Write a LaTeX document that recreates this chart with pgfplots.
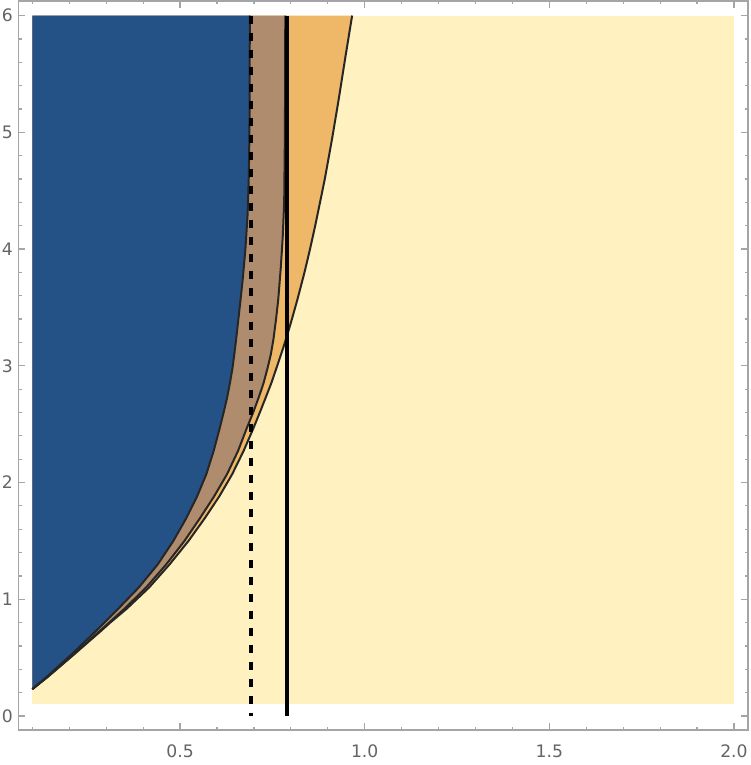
\documentclass[border=0pt]{standalone}
\usepackage{pgfplots}
\pgfplotsset{compat=1.18}
\usepackage{fontspec}
\setmainfont{DejaVu Sans}
\definecolor{cblue}{RGB}{36,82,135}
\definecolor{ctan}{RGB}{176,140,110}
\definecolor{corange}{RGB}{239,183,104}
\definecolor{cyellow}{RGB}{255,241,192}
\definecolor{cframe}{RGB}{165,165,165}
\definecolor{clabel}{RGB}{100,100,100}
\begin{document}
\begin{tikzpicture}
\useasboundingbox (-9.15pt,-17.5pt) rectangle (365.85pt,365pt);
\begin{axis}[
  at={(0,0)}, anchor=south west,
  scale only axis, width=364.85pt, height=364.5pt,
  xmin=0.062, xmax=2.038, ymin=-0.12, ymax=6.125,
  axis line style={cframe, line width=0.6pt},
  tick style={cframe, line width=0.6pt},
  tick align=inside,
  major tick length=3.3pt, minor tick length=1.7pt,
  xtick={0.5,1,1.5,2}, xticklabels={0.5,1.0,1.5,2.0},
  minor xtick={0.1,0.2,0.3,0.4,0.6,0.7,0.8,0.9,1.1,1.2,1.3,1.4,1.6,1.7,1.8,1.9},
  ytick={0,1,2,3,4,5,6},
  minor ytick={0.2,0.4,0.6,0.8,1.2,1.4,1.6,1.8,2.2,2.4,2.6,2.8,3.2,3.4,3.6,3.8,4.2,4.4,4.6,4.8,5.2,5.4,5.6,5.8},
  ticklabel style={font=\fontsize{8.6}{10}\selectfont, text=clabel},
  yticklabel style={inner sep=0pt, xshift=-2.6pt},
  xticklabel style={inner sep=0pt, yshift=-7.3pt},
  /pgf/number format/assume math mode=true,
  clip=true,
]
% background region
\addplot[fill=cyellow, draw=none] coordinates {(0.1,0.1) (2.0,0.1) (2.0,6.0) (0.1,6.0)} -- cycle;
% orange region (left of f3)
\addplot[fill=corange, draw=none] coordinates {
(0.100,0.23) (0.140,0.33) (0.177,0.43) (0.214,0.53) (0.250,0.63) (0.281,0.715) (0.311,0.80) (0.356,0.92) (0.416,1.10) (0.472,1.30) (0.523,1.50) (0.566,1.69) (0.606,1.88) (0.641,2.07) (0.672,2.27) (0.698,2.46) (0.716,2.60) (0.731,2.72) (0.747,2.85) (0.761,2.98) (0.778,3.14) (0.789,3.25) (0.803,3.40) (0.818,3.57) (0.837,3.80) (0.852,4.00) (0.866,4.20) (0.881,4.43) (0.892,4.60) (0.912,4.95) (0.930,5.29) (0.948,5.65) (0.966,6.00)
(0.1,6.0)} -- cycle;
% tan region (left of f2)
\addplot[fill=ctan, draw=none] coordinates {
(0.100,0.23) (0.139,0.33) (0.176,0.43) (0.212,0.53) (0.248,0.63) (0.278,0.715) (0.308,0.80) (0.350,0.92) (0.408,1.10) (0.463,1.30) (0.512,1.50) (0.553,1.69) (0.592,1.88) (0.627,2.07) (0.657,2.27) (0.680,2.46) (0.698,2.60) (0.712,2.72) (0.726,2.85) (0.737,2.98) (0.746,3.10) (0.753,3.23) (0.760,3.40) (0.766,3.57) (0.773,3.85) (0.778,4.10) (0.782,4.40) (0.784,5.00) (0.785,6.00)
(0.1,6.0)} -- cycle;
% blue region (left of f1)
\addplot[fill=cblue, draw=none] coordinates {
(0.100,0.23) (0.137,0.33) (0.172,0.43) (0.207,0.53) (0.240,0.63) (0.268,0.715) (0.295,0.80) (0.333,0.92) (0.388,1.10) (0.440,1.30) (0.482,1.50) (0.516,1.69) (0.546,1.88) (0.571,2.07) (0.591,2.27) (0.607,2.46) (0.618,2.60) (0.627,2.72) (0.635,2.85) (0.642,2.98) (0.647,3.10) (0.652,3.23) (0.658,3.40) (0.664,3.57) (0.670,3.75) (0.677,4.00) (0.683,4.30) (0.686,4.60) (0.688,5.00) (0.689,6.00)
(0.1,6.0)} -- cycle;
% boundaries
\addplot[black!85, line width=1pt, line join=round] coordinates {
(0.100,0.23) (0.140,0.33) (0.177,0.43) (0.214,0.53) (0.250,0.63) (0.281,0.715) (0.311,0.80) (0.356,0.92) (0.416,1.10) (0.472,1.30) (0.523,1.50) (0.566,1.69) (0.606,1.88) (0.641,2.07) (0.672,2.27) (0.698,2.46) (0.716,2.60) (0.731,2.72) (0.747,2.85) (0.761,2.98) (0.778,3.14) (0.789,3.25) (0.803,3.40) (0.818,3.57) (0.837,3.80) (0.852,4.00) (0.866,4.20) (0.881,4.43) (0.892,4.60) (0.912,4.95) (0.930,5.29) (0.948,5.65) (0.966,6.00)};
\addplot[black!85, line width=1pt, line join=round] coordinates {
(0.100,0.23) (0.139,0.33) (0.176,0.43) (0.212,0.53) (0.248,0.63) (0.278,0.715) (0.308,0.80) (0.350,0.92) (0.408,1.10) (0.463,1.30) (0.512,1.50) (0.553,1.69) (0.592,1.88) (0.627,2.07) (0.657,2.27) (0.680,2.46) (0.698,2.60) (0.712,2.72) (0.726,2.85) (0.737,2.98) (0.746,3.10) (0.753,3.23) (0.760,3.40) (0.766,3.57) (0.773,3.85) (0.778,4.10) (0.782,4.40) (0.784,5.00) (0.785,6.00)};
\addplot[black!85, line width=1pt, line join=round] coordinates {
(0.100,0.23) (0.137,0.33) (0.172,0.43) (0.207,0.53) (0.240,0.63) (0.268,0.715) (0.295,0.80) (0.333,0.92) (0.388,1.10) (0.440,1.30) (0.482,1.50) (0.516,1.69) (0.546,1.88) (0.571,2.07) (0.591,2.27) (0.607,2.46) (0.618,2.60) (0.627,2.72) (0.635,2.85) (0.642,2.98) (0.647,3.10) (0.652,3.23) (0.658,3.40) (0.664,3.57) (0.670,3.75) (0.677,4.00) (0.683,4.30) (0.686,4.60) (0.688,5.00) (0.689,6.00)};
% vertical lines
\addplot[black, line width=2pt, dash pattern=on 4pt off 4.5pt] coordinates {(0.693,6) (0.693,0)};
\addplot[black, line width=2pt] coordinates {(0.790,6) (0.790,0)};
\end{axis}
\end{tikzpicture}
\end{document}
